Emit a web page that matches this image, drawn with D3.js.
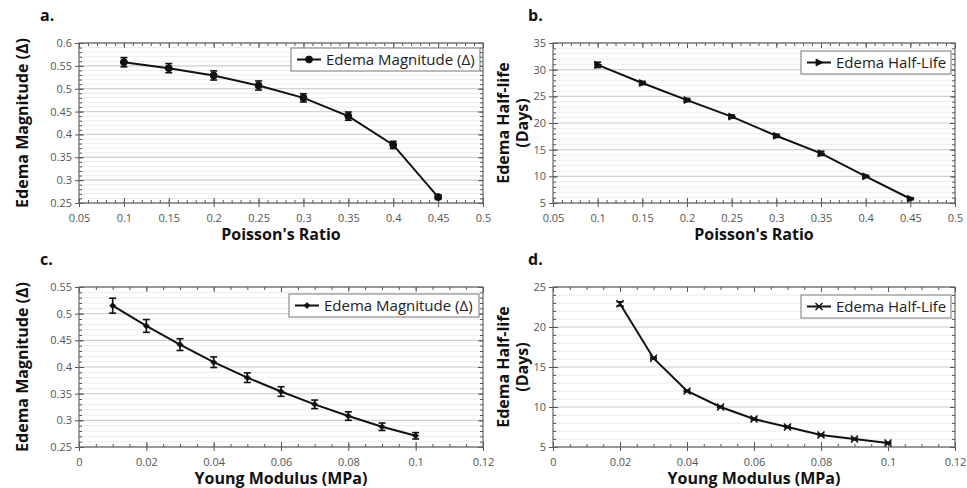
<!DOCTYPE html>
<html>
<head>
<meta charset="utf-8">
<script src="https://cdn.jsdelivr.net/npm/d3@7"></script>
<style>
  body { margin: 0; background: #fff; }
  svg text { font-family: "Open Sans", "Noto Sans", sans-serif; }
</style>
</head>
<body>
<script>
// values
const poissonRatio = [0.1, 0.15, 0.2, 0.25, 0.3, 0.35, 0.4, 0.45];
const magnitudeA = [0.558, 0.545, 0.529, 0.507, 0.480, 0.440, 0.377, 0.263];
const magnitudeAErr = [0.010, 0.010, 0.010, 0.010, 0.009, 0.009, 0.008, 0.005];

const halfLifeB = [30.9, 27.5, 24.3, 21.2, 17.6, 14.3, 10.0, 5.8];
const halfLifeBErr = [0.5, 0.3, 0.3, 0.3, 0.3, 0.4, 0.2, 0.2];

const youngModulus = [0.01, 0.02, 0.03, 0.04, 0.05, 0.06, 0.07, 0.08, 0.09, 0.1];
const magnitudeC = [0.515, 0.477, 0.442, 0.409, 0.380, 0.354, 0.330, 0.308, 0.288, 0.271];
const magnitudeCErr = [0.014, 0.012, 0.011, 0.010, 0.009, 0.009, 0.008, 0.008, 0.007, 0.006];

const youngModulusD = [0.02, 0.03, 0.04, 0.05, 0.06, 0.07, 0.08, 0.09, 0.1];
const halfLifeD = [22.9, 16.1, 12.0, 10.0, 8.5, 7.5, 6.5, 6.0, 5.5];
const halfLifeDErr = [0.25, 0.1, 0.1, 0.1, 0.1, 0.1, 0.1, 0.1, 0.1];

const poissonTicks = ["0.05", "0.1", "0.15", "0.2", "0.25", "0.3", "0.35", "0.4", "0.45", "0.5"];
const youngTicks = ["0", "0.02", "0.04", "0.06", "0.08", "0.1", "0.12"];
const magnitudeTicksA = ["0.25", "0.3", "0.35", "0.4", "0.45", "0.5", "0.55", "0.6"];
const magnitudeTicksC = ["0.25", "0.3", "0.35", "0.4", "0.45", "0.5", "0.55"];
const halfLifeTicksB = ["5", "10", "15", "20", "25", "30", "35"];
const halfLifeTicksD = ["5", "10", "15", "20", "25"];

const svg = d3.select("body").append("svg")
  .attr("width", 967)
  .attr("height", 488);

function drawPanel(p) {
  const x = d3.scaleLinear()
    .domain([+p.xTicks[0], +p.xTicks[p.xTicks.length - 1]])
    .range([p.left, p.right]);
  const y = d3.scaleLinear()
    .domain([+p.yTicks[0], +p.yTicks[p.yTicks.length - 1]])
    .range([p.bottom, p.top]);

  const w = p.right - p.left, h = p.bottom - p.top;
  const g = svg.append("g");

  // minor + major horizontal grid
  const yStep = (+p.yTicks[1]) - (+p.yTicks[0]);
  const yMinor = d3.range(0, (p.yTicks.length - 1) * p.ySub + 1)
    .map(i => +p.yTicks[0] + i * yStep / p.ySub);
  g.append("g").selectAll("line")
    .data(yMinor)
    .enter().append("line")
      .attr("x1", p.left).attr("x2", p.right)
      .attr("y1", d => y(d)).attr("y2", d => y(d))
      .attr("stroke", "#ececec")
      .attr("stroke-width", 1);
  g.append("g").selectAll("line")
    .data(p.yTicks.map(Number))
    .enter().append("line")
      .attr("x1", p.left).attr("x2", p.right)
      .attr("y1", d => y(d)).attr("y2", d => y(d))
      .attr("stroke", "#d2d2d2")
      .attr("stroke-width", 1.2);

  const xStep = (+p.xTicks[1]) - (+p.xTicks[0]);
  const xMinor = d3.range(0, (p.xTicks.length - 1) * p.xSub + 1)
    .map(i => +p.xTicks[0] + i * xStep / p.xSub);

  // axes: bottom/left with labels, top/right mirrored ticks
  const fmtX = (d, i) => p.xTicks[i];
  const fmtY = (d, i) => p.yTicks[i];

  const addAxis = (axis, tx, ty) => {
    const a = g.append("g").attr("transform", `translate(${tx},${ty})`).call(axis);
    a.select(".domain").remove();
    a.selectAll("line").attr("stroke", "#555");
    a.selectAll("text").attr("fill", "#555").style("font-size", "11px");
    return a;
  };

  addAxis(d3.axisBottom(x).tickValues(xMinor).tickSize(-3).tickFormat(""), 0, p.bottom);
  addAxis(d3.axisTop(x).tickValues(xMinor).tickSize(-3).tickFormat(""), 0, p.top);
  addAxis(d3.axisLeft(y).tickValues(yMinor).tickSize(-3).tickFormat(""), p.left, 0);
  addAxis(d3.axisRight(y).tickValues(yMinor).tickSize(-3).tickFormat(""), p.right, 0);

  addAxis(d3.axisBottom(x).tickValues(p.xTicks.map(Number)).tickSize(4).tickPadding(7).tickFormat(fmtX), 0, p.bottom);
  addAxis(d3.axisBottom(x).tickValues(p.xTicks.map(Number)).tickSize(-5).tickFormat(""), 0, p.bottom);
  addAxis(d3.axisTop(x).tickValues(p.xTicks.map(Number)).tickSize(-5).tickFormat(""), 0, p.top);
  addAxis(d3.axisLeft(y).tickValues(p.yTicks.map(Number)).tickSize(4).tickPadding(3).tickFormat(fmtY), p.left, 0);
  addAxis(d3.axisLeft(y).tickValues(p.yTicks.map(Number)).tickSize(-5).tickFormat(""), p.left, 0);
  addAxis(d3.axisRight(y).tickValues(p.yTicks.map(Number)).tickSize(-5).tickFormat(""), p.right, 0);

  g.append("rect")
    .attr("x", p.left).attr("y", p.top)
    .attr("width", w).attr("height", h)
    .attr("fill", "none")
    .attr("stroke", "#666")
    .attr("stroke-width", 1.2);

  const pts = p.xs.map((xv, i) => ({ x: xv, y: p.ys[i], e: p.errs[i] }));

  // series line
  g.append("path")
    .datum(pts)
    .attr("fill", "none")
    .attr("stroke", "#111")
    .attr("stroke-width", 2)
    .attr("d", d3.line().x(d => x(d.x)).y(d => y(d.y)));

  // error bars
  const eb = g.append("g").attr("stroke", "#111").attr("stroke-width", 1.6);
  eb.selectAll(".v").data(pts).enter().append("line")
    .attr("x1", d => x(d.x)).attr("x2", d => x(d.x))
    .attr("y1", d => y(d.y - d.e)).attr("y2", d => y(d.y + d.e));
  eb.selectAll(".t").data(pts).enter().append("line")
    .attr("x1", d => x(d.x) - 3.5).attr("x2", d => x(d.x) + 3.5)
    .attr("y1", d => y(d.y + d.e)).attr("y2", d => y(d.y + d.e));
  eb.selectAll(".b").data(pts).enter().append("line")
    .attr("x1", d => x(d.x) - 3.5).attr("x2", d => x(d.x) + 3.5)
    .attr("y1", d => y(d.y - d.e)).attr("y2", d => y(d.y - d.e));

  // markers
  const mk = g.append("g");
  mk.selectAll("path").data(pts).enter().append("path")
    .attr("transform", d => `translate(${x(d.x)},${y(d.y)})`)
    .attr("d", p.marker)
    .attr("fill", p.markerFill)
    .attr("stroke", "#111")
    .attr("stroke-width", p.markerStroke);

  // legend
  const lg = g.append("g").attr("transform", `translate(${p.legend[0]},${p.legend[1]})`);
  lg.append("rect")
    .attr("width", p.legend[2]).attr("height", 23)
    .attr("fill", "#fff")
    .attr("stroke", "#777")
    .attr("stroke-width", 1);
  lg.append("line")
    .attr("x1", 6).attr("x2", 30).attr("y1", 11.5).attr("y2", 11.5)
    .attr("stroke", "#111").attr("stroke-width", 2);
  lg.append("path")
    .attr("transform", "translate(18,11.5)")
    .attr("d", p.marker)
    .attr("fill", p.markerFill)
    .attr("stroke", "#111")
    .attr("stroke-width", p.markerStroke);
  lg.append("text")
    .attr("x", 35).attr("y", 17)
    .style("font-size", "15px")
    .attr("fill", "#222")
    .text(p.series);

  // titles
  svg.append("text")
    .attr("x", p.tag[0]).attr("y", p.tag[1])
    .style("font-size", "16px").style("font-weight", "bold")
    .attr("fill", "#111")
    .text(p.tagText);

  svg.append("text")
    .attr("x", (p.left + p.right) / 2).attr("y", p.bottom + 37)
    .attr("text-anchor", "middle")
    .style("font-size", "16px").style("font-weight", "bold")
    .attr("fill", "#111")
    .text(p.xTitle);

  const yt = svg.append("text")
    .attr("transform", `translate(${p.yTitleX},${(p.top + p.bottom) / 2}) rotate(-90)`)
    .attr("text-anchor", "middle")
    .style("font-size", "16px").style("font-weight", "bold")
    .attr("fill", "#111");
  p.yTitle.forEach((line, i) => {
    yt.append("tspan")
      .attr("x", 0)
      .attr("dy", i === 0 ? 0 : 19)
      .text(line);
  });
}

const circle = d3.symbol(d3.symbolCircle, 38)();
const tri = "M-3,-3.5L4,0L-3,3.5Z";
const diamond = "M0,-3L3,0L0,3L-3,0Z";
const cross = "M-3.5,-3.5L3.5,3.5M-3.5,3.5L3.5,-3.5";

drawPanel({
  left: 79, right: 483, top: 43, bottom: 203,
  xTicks: poissonTicks, yTicks: magnitudeTicksA, xSub: 5, ySub: 5,
  xs: poissonRatio, ys: magnitudeA, errs: magnitudeAErr,
  marker: circle, markerFill: "#111", markerStroke: 1,
  legend: [291, 48, 189], series: "Edema Magnitude (Δ)",
  tag: [40, 21], tagText: "a.",
  xTitle: "Poisson's Ratio", yTitle: ["Edema Magnitude (Δ)"], yTitleX: 28
});

drawPanel({
  left: 553, right: 955, top: 43, bottom: 203,
  xTicks: poissonTicks, yTicks: halfLifeTicksB, xSub: 5, ySub: 5,
  xs: poissonRatio, ys: halfLifeB, errs: halfLifeBErr,
  marker: tri, markerFill: "#111", markerStroke: 0.8,
  legend: [801, 51, 150], series: "Edema Half-Life",
  tag: [528, 21], tagText: "b.",
  xTitle: "Poisson's Ratio", yTitle: ["Edema Half-life", "(Days)"], yTitleX: 509
});

drawPanel({
  left: 79, right: 483, top: 287, bottom: 447,
  xTicks: youngTicks, yTicks: magnitudeTicksC, xSub: 4, ySub: 5,
  xs: youngModulus, ys: magnitudeC, errs: magnitudeCErr,
  marker: diamond, markerFill: "#111", markerStroke: 0.8,
  legend: [289, 294, 190], series: "Edema Magnitude (Δ)",
  tag: [40, 265], tagText: "c.",
  xTitle: "Young Modulus (MPa)", yTitle: ["Edema Magnitude (Δ)"], yTitleX: 28
});

drawPanel({
  left: 553, right: 955, top: 287, bottom: 447,
  xTicks: youngTicks, yTicks: halfLifeTicksD, xSub: 4, ySub: 5,
  xs: youngModulusD, ys: halfLifeD, errs: halfLifeDErr,
  marker: cross, markerFill: "none", markerStroke: 1.5,
  legend: [801, 295, 150], series: "Edema Half-Life",
  tag: [528, 265], tagText: "d.",
  xTitle: "Young Modulus (MPa)", yTitle: ["Edema Half-life", "(Days)"], yTitleX: 509
});
</script>
</body>
</html>
